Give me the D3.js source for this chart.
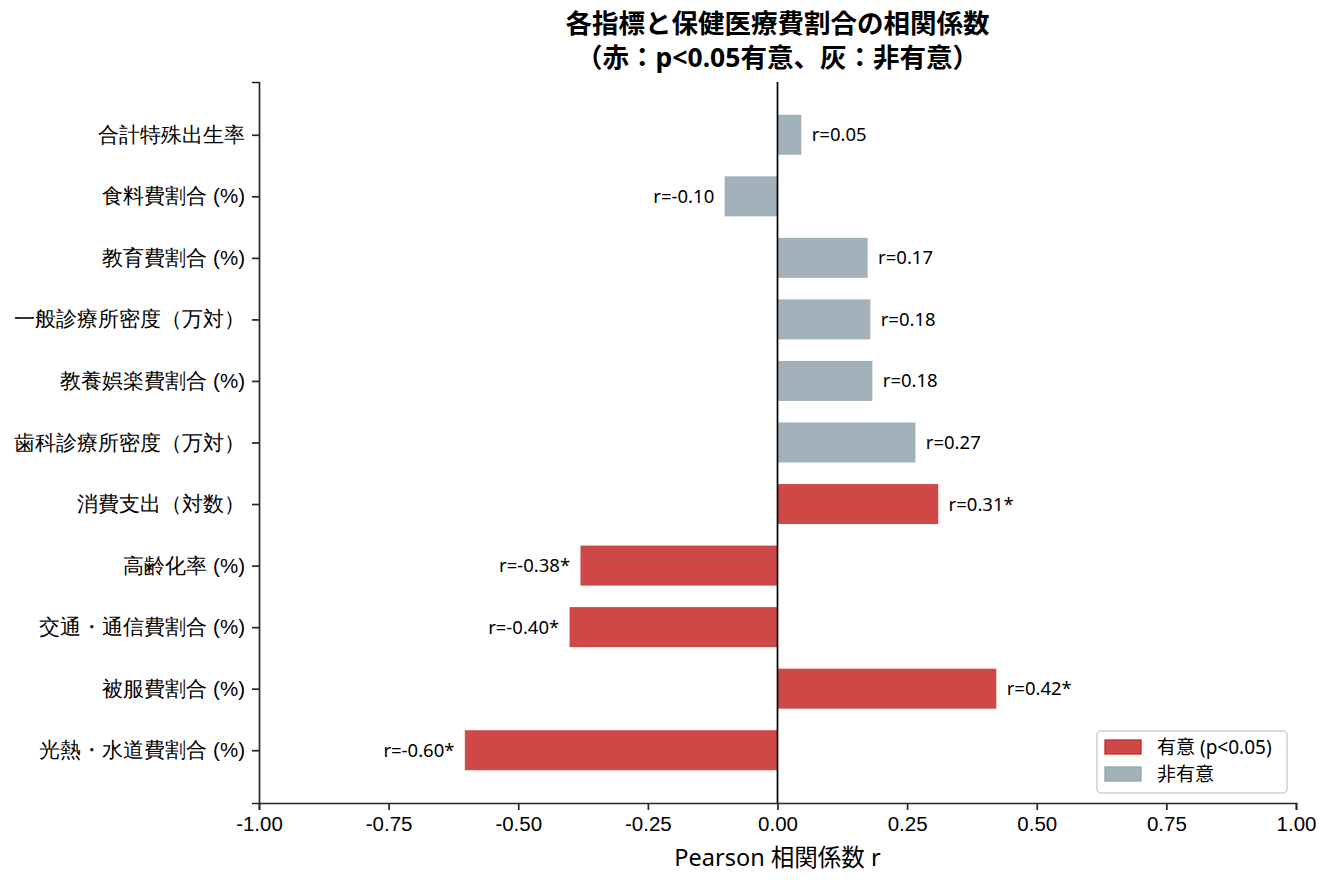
<!DOCTYPE html>
<html>
<head>
<meta charset="utf-8">
<script src="https://cdn.jsdelivr.net/npm/d3@7"></script>
<style>
  body { margin: 0; background: #fff; }
  svg { display: block; font-family: 'Noto Sans', 'Noto Sans CJK JP', sans-serif; }
</style>
</head>
<body>
<div id="chart"></div>
<script>
// categories listed top -> bottom as drawn
const categories = [
    '合計特殊出生率',
    '食料費割合 (%)',
    '教育費割合 (%)',
    '一般診療所密度（万対）',
    '教養娯楽費割合 (%)',
    '歯科診療所密度（万対）',
    '消費支出（対数）',
    '高齢化率 (%)',
    '交通・通信費割合 (%)',
    '被服費割合 (%)',
    '光熱・水道費割合 (%)'
];
const rValues = [0.046, -0.102, 0.174, 0.179, 0.183, 0.266, 0.310, -0.380, -0.401, 0.422, -0.603];
const significant = [false, false, false, false, false, false, true, true, true, true, true];
const xTicks = [-1, -0.75, -0.5, -0.25, 0, 0.25, 0.5, 0.75, 1];
const legendLabels = ['有意 (p<0.05)', '非有意'];

const W = 1335, H = 884;
const margin = {top: 82, right: 39, bottom: 81, left: 259};
const width = W - margin.left - margin.right,
      height = H - margin.top - margin.bottom;

const colSig = '#c62828', colNon = '#90a4ae', barAlpha = 0.85;

const svg = d3.select('#chart').append('svg')
    .attr('width', W)
    .attr('height', H);

const g = svg.append('g')
    .attr('transform', 'translate(' + margin.left + ',' + margin.top + ')');

const n = categories.length;
const barH = 0.65;
const pad = (n - 1 + barH) * 0.05;

const x = d3.scaleLinear().domain([-1, 1]).range([0, width]);
const y = d3.scaleLinear()
    .domain([-barH / 2 - pad, n - 1 + barH / 2 + pad])
    .range([height, 0]);

const data = categories.map((c, i) => ({
    cat: c, r: rValues[i], sig: significant[i], pos: n - 1 - i
}));

// bars
g.selectAll('.bar')
    .data(data).enter()
    .append('rect')
    .attr('x', d => x(Math.min(0, d.r)))
    .attr('y', d => y(d.pos + barH / 2))
    .attr('width', d => Math.abs(x(d.r) - x(0)))
    .attr('height', d => y(d.pos - barH / 2) - y(d.pos + barH / 2))
    .attr('fill', d => d.sig ? colSig : colNon)
    .attr('fill-opacity', barAlpha);

// value labels
g.selectAll('.val')
    .data(data).enter()
    .append('text')
    .attr('x', d => d.r >= 0 ? x(d.r + 0.02) : x(d.r - 0.02))
    .attr('y', d => y(d.pos))
    .attr('dy', '0.35em')
    .attr('text-anchor', d => d.r >= 0 ? 'start' : 'end')
    .style('font-size', '18.5px')
    .text(d => 'r=' + d.r.toFixed(2) + (d.sig ? '*' : ''));

// zero line
g.append('line')
    .attr('x1', x(0)).attr('x2', x(0))
    .attr('y1', 0).attr('y2', height)
    .attr('stroke', '#000')
    .attr('stroke-width', 1.7);

// x axis
const xAxis = g.append('g')
    .attr('transform', 'translate(0,' + height + ')')
    .call(d3.axisBottom(x).tickValues(xTicks).tickFormat(d => d.toFixed(2)).tickSizeOuter(0).tickSize(7).tickPadding(6));
xAxis.selectAll('text').style('font-size', '20.5px').attr('fill', '#000');

// y axis
const yAxis = g.append('g')
    .call(d3.axisLeft(y).tickValues(data.map(d => d.pos))
        .tickFormat(p => categories[n - 1 - p]).tickSizeOuter(0).tickSize(7).tickPadding(7));
yAxis.selectAll('text').style('font-size', '20.5px').attr('fill', '#000');

[xAxis, yAxis].forEach(a => {
    a.select('.domain').attr('stroke', '#262626').attr('stroke-width', 1.7);
    a.selectAll('.tick line').attr('stroke', '#262626').attr('stroke-width', 1.7);
});

// x label
g.append('text')
    .attr('x', width / 2)
    .attr('y', height + 55)
    .attr('dy', '0.35em')
    .attr('text-anchor', 'middle')
    .style('font-size', '23.5px')
    .text('Pearson 相関係数 r');

// title
const title = g.append('text')
    .attr('text-anchor', 'middle')
    .style('font-size', '26.5px')
    .style('font-weight', 'bold');
title.append('tspan').attr('x', width / 2).attr('y', -49).text('各指標と保健医療費割合の相関係数');
title.append('tspan').attr('x', width / 2).attr('y', -15).text('（赤：p<0.05有意、灰：非有意）');

// legend
const lg = g.append('g')
    .attr('transform', 'translate(' + (width - 199) + ',' + (height - 72) + ')');
lg.append('rect')
    .attr('width', 190).attr('height', 62).attr('rx', 4)
    .attr('fill', '#fff').attr('fill-opacity', 0.8)
    .attr('stroke', '#d0d0d0').attr('stroke-width', 1.5);
[colSig, colNon].forEach((c, i) => {
    lg.append('rect')
        .attr('x', 8).attr('y', 9 + i * 27)
        .attr('width', 36).attr('height', 14)
        .attr('fill', c).attr('fill-opacity', barAlpha)
        .attr('stroke', c).attr('stroke-opacity', barAlpha).attr('stroke-width', 1.5);
    lg.append('text')
        .attr('x', 60).attr('y', 16 + i * 27)
        .attr('dy', '0.35em')
        .style('font-size', '19px')
        .text(legendLabels[i]);
});
</script>
</body>
</html>
